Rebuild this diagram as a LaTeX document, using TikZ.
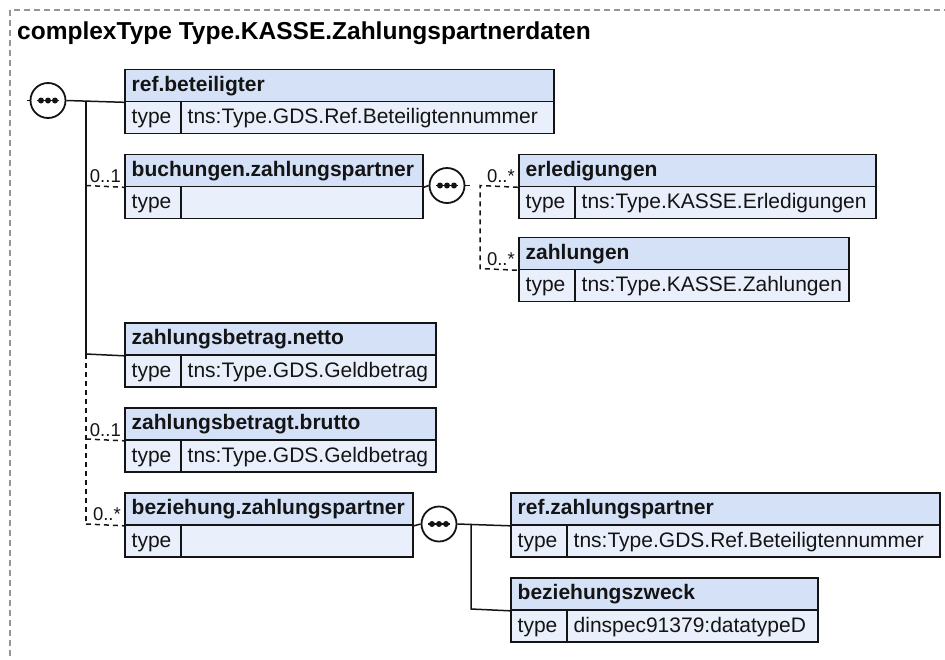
\documentclass[tikz,border=0pt]{standalone}
\usepackage{fontspec}
\setmainfont{Liberation Sans}
\usetikzlibrary{calc}
\definecolor{hdrcol}{RGB}{212,225,247}
\definecolor{rowcol}{RGB}{233,240,252}
\definecolor{framecol}{RGB}{150,150,150}
\definecolor{inkcol}{RGB}{20,20,20}
\tikzset{
  boxline/.style={draw=inkcol, line width=1.8pt},
  hdrbox/.style={boxline, fill=hdrcol, minimum height=32pt, inner sep=0pt, rectangle},
  rowbox/.style={boxline, fill=rowcol, minimum height=32pt, inner sep=0pt, rectangle},
  typecell/.style={boxline, fill=rowcol, minimum height=32pt, minimum width=56pt, inner sep=0pt, rectangle},
  hdrtext/.style={inner sep=0pt, text=inkcol, font=\fontsize{21}{24}\selectfont\bfseries},
  rowtext/.style={inner sep=0pt, text=inkcol, font=\fontsize{21}{24}\selectfont},
  cardtext/.style={inner sep=0pt, text=inkcol, font=\fontsize{18.5}{22}\selectfont, anchor=base east},
  titletext/.style={inner sep=0pt, text=black, font=\fontsize{24.5}{28}\selectfont\bfseries, anchor=base west},
  conn/.style={draw=inkcol, line width=1.5pt},
  optconn/.style={conn, dash pattern=on 5pt off 4pt},
  framedash/.style={draw=framecol, line width=1.2pt, dash pattern=on 6pt off 4pt},
  seq/.style={circle, draw=inkcol, fill=white, line width=1.8pt, minimum size=35pt, inner sep=0pt,
    path picture={
      \draw[line width=1.6pt, inkcol] ([xshift=-11pt]path picture bounding box.center) -- ([xshift=11pt]path picture bounding box.center);
      \foreach \d in {-7,0,7} \fill[inkcol] ([xshift=\d pt]path picture bounding box.center) circle (3pt);
    }},
}
\newcommand\schemabox[6]{%
  \node[hdrbox, minimum width=#4pt, anchor=north west] (#1h) at (#2,#3) {};
  \node[rowbox, minimum width=#4pt, anchor=north west] (#1r) at (#2,#3+32) {};
  \node[typecell, anchor=north west] (#1c) at (#2,#3+32) {};
  \node[hdrtext, anchor=base west] (#1n) at ($(#1h.north west)+(7.5,22.5)$) {#5};
  \node[rowtext, anchor=base west] (#1k) at ($(#1r.north west)+(7.5,23)$) {type};
  \node[rowtext, anchor=base west] (#1v) at ($(#1r.north west)+(63.5,23)$) {#6};
}
\begin{document}
\begin{tikzpicture}[x=1pt,y=-1pt]
\useasboundingbox (0,0) rectangle (945,659);
\begin{scope}
  \clip (0,0) rectangle (945,659);
  \draw[framedash] (10,10) rectangle (970,690);
\end{scope}
\node[titletext] (title) at (17,39.5) {complexType Type.KASSE.Zahlungspartnerdaten};

% boxes
\schemabox{bA}{124}{68.5}{429}{ref.beteiligter}{tns:Type.GDS.Ref.Beteiligtennummer}
\schemabox{bB}{124}{153.5}{298}{buchungen.zahlungspartner}{}
\schemabox{bE}{518}{153.5}{357}{erledigungen}{tns:Type.KASSE.Erledigungen}
\schemabox{bZ}{518}{236.5}{330}{zahlungen}{tns:Type.KASSE.Zahlungen}
\schemabox{bC}{124}{322}{311}{zahlungsbetrag.netto}{tns:Type.GDS.Geldbetrag}
\schemabox{bD}{124}{407}{311}{zahlungsbetragt.brutto}{tns:Type.GDS.Geldbetrag}
\schemabox{bF}{124}{492}{288}{beziehung.zahlungspartner}{}
\schemabox{bR}{510}{492}{429}{ref.zahlungspartner}{tns:Type.GDS.Ref.Beteiligtennummer}
\schemabox{bS}{510}{577}{307}{beziehungszweck}{dinspec91379:datatypeD}

% sequence compositors
\node[seq] (sq1) at (48,100.5) {};
\node[seq] (sq2) at (447,185.5) {};
\node[seq] (sq3) at (439,524) {};

% trunk coordinates
\coordinate (in1) at (27,100.5);
\coordinate (tA) at (86,100.5);
\coordinate (tB) at (86,185.5);
\coordinate (tC) at (86,354);
\coordinate (tD) at (86,439);
\coordinate (tF) at (86,524);
\coordinate (eA) at (480,185.5);
\coordinate (eZ) at (480,268.5);
\coordinate (s3) at (471,524);
\coordinate (s3b) at (471,609);

% connectors from root sequence
\draw[conn] (in1) -- (sq1.west);
\draw[conn] (sq1.east) -- (bAh.south west);
\draw[conn] (tA) -- (tC);
\draw[conn] (tC) -- (bCh.south west);
\draw[optconn] (tC) -- (tF);
\draw[optconn] (tB) -- (bBh.south west);
\draw[optconn] (tD) -- (bDh.south west);
\draw[optconn] (tF) -- (bFh.south west);

% buchungen sequence
\draw[conn] (bBh.south east) -- (sq2.west);
\draw[conn] (sq2.east) -- ++(5,0);
\draw[optconn] (bEh.south west) -- (eA) -- (eZ) -- (bZh.south west);

% beziehung sequence
\draw[conn] (bFh.south east) -- (sq3.west);
\draw[conn] (sq3.east) -- (bRh.south west);
\draw[conn] (s3) -- (s3b) -- (bSh.south west);

% cardinalities
\node[cardtext] (kB) at ($(bBh.south west)+(-3,-4.5)$) {0..1};
\node[cardtext] (kE) at ($(bEh.south west)+(-3,-5)$) {0..*};
\node[cardtext] (kZ) at ($(bZh.south west)+(-3,-5)$) {0..*};
\node[cardtext] (kD) at ($(bDh.south west)+(-3,-4.5)$) {0..1};
\node[cardtext] (kF) at ($(bFh.south west)+(-3,-5)$) {0..*};
\end{tikzpicture}
\end{document}
